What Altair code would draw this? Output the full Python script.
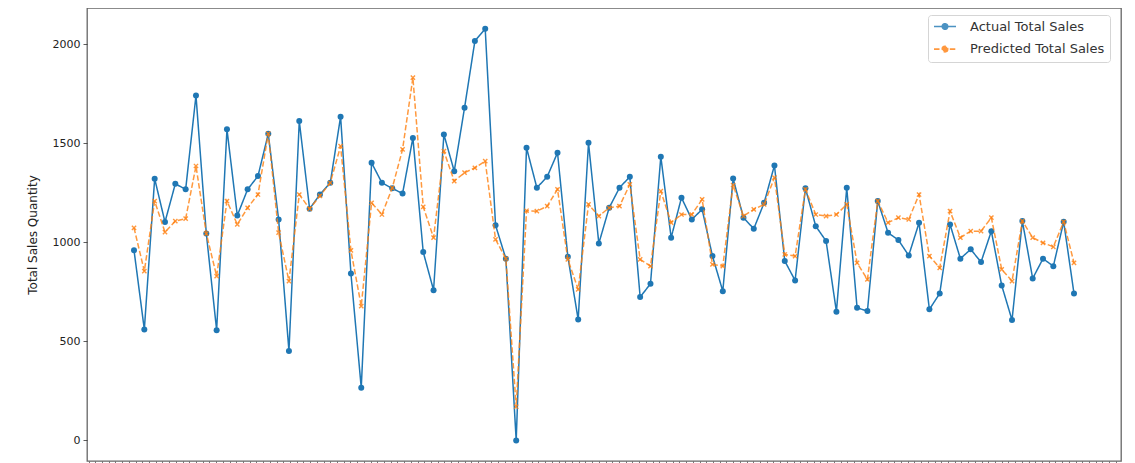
import altair as alt
import pandas as pd
import numpy as np

series_names = ["Actual Total Sales", "Predicted Total Sales"]

actual = [961, 560, 1322, 1103, 1296, 1268, 1742, 1045, 557, 1571,
          1136, 1268, 1335, 1549, 1116, 451, 1613, 1170, 1242, 1301,
          1635, 843, 266, 1402, 1301, 1273, 1247, 1528, 951, 759,
          1545, 1360, 1680, 2017, 2079, 1087, 918, 0, 1478, 1276,
          1332, 1453, 928, 611, 1503, 995, 1175, 1276, 1332, 724,
          791, 1433, 1024, 1226, 1116, 1167, 931, 754, 1323, 1125,
          1069, 1200, 1389, 906, 808, 1273, 1082, 1007, 650, 1276,
          670, 653, 1209, 1049, 1012, 934, 1099, 662, 742, 1091,
          918, 965, 901, 1057, 783, 608, 1108, 818, 918, 880,
          1104, 742]

predicted = [1074, 855, 1209, 1052, 1108, 1120, 1386, 1045, 830, 1209,
             1091, 1175, 1242, 1549, 1049, 805, 1242, 1170, 1235, 1301,
             1486, 960, 678, 1200, 1141, 1275, 1470, 1832, 1180, 1024,
             1461, 1310, 1352, 1377, 1411, 1015, 918, 170, 1160, 1158,
             1183, 1268, 914, 763, 1192, 1133, 1175, 1183, 1293, 914,
             880, 1259, 1100, 1141, 1141, 1217, 889, 880, 1290, 1133,
             1167, 1192, 1327, 939, 931, 1268, 1141, 1133, 1141, 1192,
             897, 813, 1209, 1100, 1125, 1116, 1242, 931, 872, 1158,
             1024, 1057, 1057, 1125, 864, 805, 1108, 1024, 998, 978,
             1104, 897]

y_ticks = [0, 500, 1000, 1500, 2000]

n = len(actual)
df = pd.DataFrame({
    "idx": list(range(n)) * 2,
    "value": actual + predicted,
    "series": [series_names[0]] * n + [series_names[1]] * n,
})

BLUE = "#1f77b4"
ORANGE = "#ff7f0e"

x_pad = 0.05 * (n - 1)
x_scale = alt.Scale(domain=[-x_pad, (n - 1) + x_pad], nice=False, zero=False)
y_scale = alt.Scale(domain=[-104, 2184], nice=False, zero=False)
x_tick_vals = [round(v, 3) for v in np.arange(-4.4, 95.6, 0.65)]

x_enc = alt.X("idx:Q", scale=x_scale,
              axis=alt.Axis(title=None, labels=False, values=x_tick_vals,
                            grid=False, domain=False, tickSize=4,
                            tickColor="#555", tickWidth=0.8))
y_enc = alt.Y("value:Q", scale=y_scale,
              axis=alt.Axis(title="Total Sales Quantity", values=y_ticks, format="d",
                            grid=False, domain=False, tickSize=4,
                            tickColor="#333", tickWidth=0.8,
                            labelPadding=3, titlePadding=13,
                            labelFontSize=11, titleFontSize=12))

legend_def = alt.Legend(title=None, orient="none", legendX=841, legendY=7,
                        fillColor="white", strokeColor="#d5d5d5",
                        cornerRadius=3, padding=5, rowPadding=8.6,
                        symbolType="M-1,0L3,0M1.5,0A0.5,0.5,0,1,1,0.5,0A0.5,0.5,0,1,1,1.5,0",
                        symbolSize=121,
                        symbolStrokeWidth=1.6, labelOffset=24,
                        labelFontSize=13, labelColor="#333",
                        labelFont="DejaVu Sans")

color = alt.Color("series:N",
                  scale=alt.Scale(domain=series_names, range=[BLUE, ORANGE]),
                  legend=legend_def)
dash = alt.StrokeDash("series:N",
                      scale=alt.Scale(domain=series_names, range=[[1, 0], [5.5, 2.4]]),
                      legend=legend_def)
fill = alt.Fill("series:N",
                scale=alt.Scale(domain=series_names, range=[BLUE, ORANGE]),
                legend=legend_def)

base = alt.Chart(df)

act_line = base.transform_filter(alt.datum.series == series_names[0]).mark_line(
    strokeWidth=1.5).encode(x=x_enc, y=y_enc, color=color, strokeDash=dash)
act_pts = base.transform_filter(alt.datum.series == series_names[0]).mark_point(
    filled=True, size=36, shape="circle", opacity=1, strokeWidth=0).encode(
    x=x_enc, y=y_enc, fill=fill)
pred_line = base.transform_filter(alt.datum.series == series_names[1]).mark_line(
    strokeWidth=1.5, opacity=0.8).encode(x=x_enc, y=y_enc, color=color, strokeDash=dash)
pred_pts = base.transform_filter(alt.datum.series == series_names[1]).mark_point(
    filled=False, size=18, shape="M-1,-1L1,1M-1,1L1,-1", color=ORANGE,
    strokeWidth=1.4, opacity=0.8).encode(x=x_enc, y=y_enc)

chart = alt.layer(act_line, act_pts, pred_line, pred_pts).properties(
    width=1034, height=453,
    autosize=alt.AutoSizeParams(type="none"),
    padding={"left": 79, "top": 0, "right": 6, "bottom": 2},
    background="white",
).configure_view(
    stroke="#666", strokeWidth=1.3
).configure_axis(
    labelFont="DejaVu Sans", titleFont="DejaVu Sans",
    labelColor="#222", titleColor="#222",
    titleFontWeight="normal"
)

chart.save("out.html", embed_options={"renderer": "svg", "actions": False})
